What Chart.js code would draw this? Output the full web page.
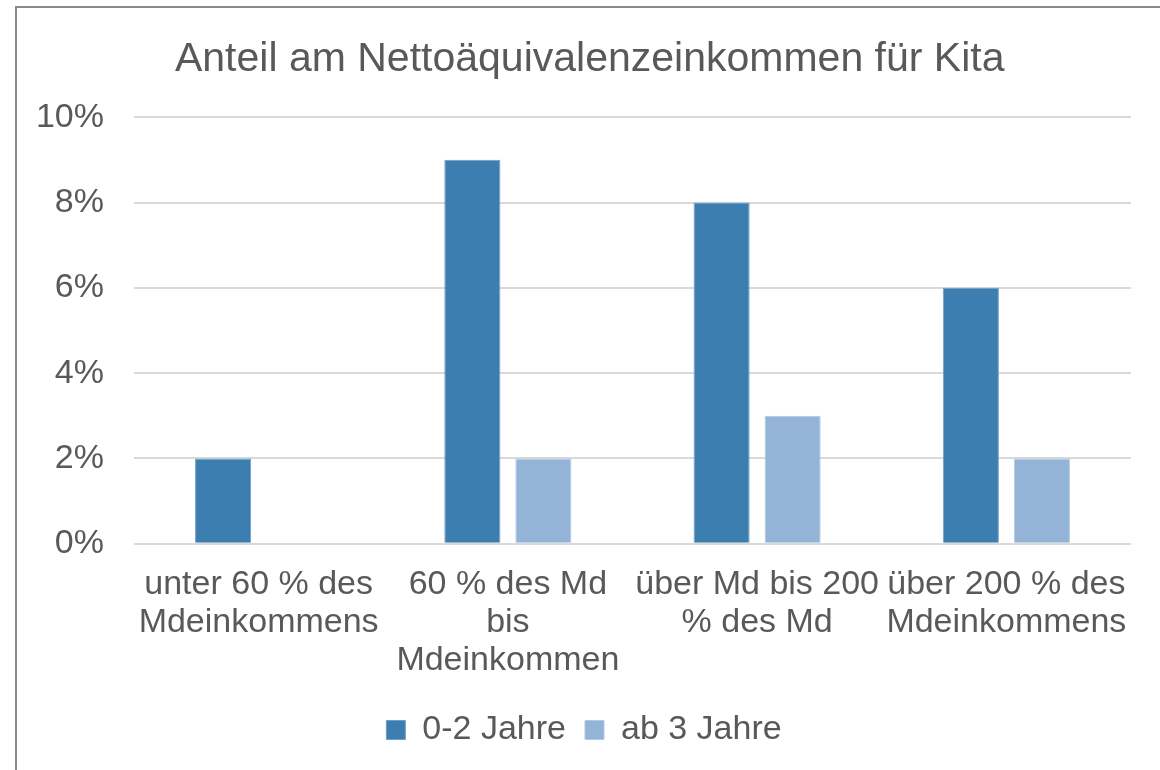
<!DOCTYPE html>
<html>
<head>
<meta charset="utf-8">
<script src="https://cdn.jsdelivr.net/npm/chart.js@4"></script>
<style>
  html, body { margin: 0; padding: 0; background: #fff; overflow: hidden; }
  #frame {
    position: absolute; left: 15px; top: 6px;
    width: 1160px; height: 780px;
    border-left: 2px solid #8a8a8a; border-top: 2px solid #8a8a8a;
  }
  #wrap { position: absolute; left: 0; top: 0; width: 1143px; height: 762px; }
</style>
</head>
<body>
<div id="frame"><div id="wrap"><canvas id="chart"></canvas></div></div>
<script>
// categories (multi-line labels)
const categories = [
    ['unter 60 % des', 'Mdeinkommens'],
    ['60 % des Md', 'bis', 'Mdeinkommen'],
    ['über Md bis 200', '% des Md'],
    ['über 200 % des', 'Mdeinkommens']
];
// values in percent
const youngValues = [2, 9, 8, 6];
const olderValues = [null, 2, 3, 2];
const seriesNames = ['0-2 Jahre', 'ab 3 Jahre'];
const yTicks = [0, 2, 4, 6, 8, 10];

const textColor = '#595959';
const fontFamily = '"Liberation Sans", Arial, sans-serif';

const data = {
    labels: categories,
    datasets: [{
        label: seriesNames[0],
        data: youngValues,
        backgroundColor: '#3D7EB0',
        borderColor: '#6F9FC7',
        borderWidth: 1,
        categoryPercentage: 0.57,
        barPercentage: 0.79
    }, {
        label: seriesNames[1],
        data: olderValues,
        backgroundColor: '#93B3D7',
        borderColor: '#B3C9E3',
        borderWidth: 1,
        categoryPercentage: 0.57,
        barPercentage: 0.79
    }]
};

const options = {
    responsive: true,
    maintainAspectRatio: false,
    animation: false,
    layout: {
        padding: { left: 20, right: 29, top: 9, bottom: 13 }
    },
    plugins: {
        title: {
            display: true,
            text: '\u00A0Anteil am Nettoäquivalenzeinkommen für Kita',
            color: textColor,
            font: { family: fontFamily, size: 41, weight: 'normal' },
            padding: { top: 18, bottom: 33 }
        },
        legend: {
            position: 'bottom',
            labels: {
                color: textColor,
                font: { family: fontFamily, size: 34 },
                boxWidth: 19,
                boxHeight: 19,
                padding: 19
            }
        },
        tooltip: { enabled: false }
    },
    scales: {
        x: {
            grid: { display: false },
            border: { display: false },
            afterFit: function (axis) {
                axis.paddingLeft = 0;
                axis.paddingRight = 0;
            },
            ticks: {
                color: textColor,
                font: { family: fontFamily, size: 34, lineHeight: 1.12 },
                maxRotation: 0,
                autoSkip: false,
                padding: 14
            }
        },
        y: {
            min: 0,
            max: 10,
            afterBuildTicks: function (axis) {
                axis.ticks = yTicks.map(v => ({ value: v }));
            },
            afterFit: function (axis) {
                // widest label plus padding
                axis.width = 97;
            },
            grid: { color: '#D9D9D9', lineWidth: 2, drawTicks: false },
            border: { display: false },
            ticks: {
                color: textColor,
                font: { family: fontFamily, size: 34 },
                padding: 30,
                callback: function (v) { return v + '%'; }
            }
        }
    }
};

new Chart(document.getElementById('chart'), {
    type: 'bar',
    data: data,
    options: options
});
</script>
</body>
</html>
